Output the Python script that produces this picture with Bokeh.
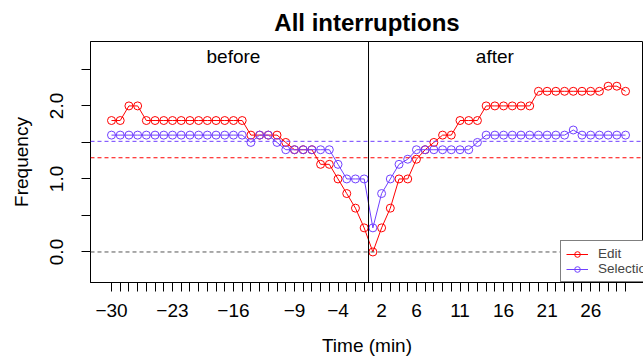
from bokeh.plotting import figure
from bokeh.models import Range1d, FixedTicker, Span, Legend, LegendItem, ColumnDataSource
from bokeh.core.properties import value
from bokeh.embed import file_html
from bokeh.resources import INLINE

# ---- data ----
minutes = [-30, -29, -28, -27, -26, -25, -24, -23, -22, -21, -20, -19, -18, -17, -16,
           -15, -14, -13, -12, -11, -10, -9, -8, -7, -6, -5, -4, -3, -2, -1,
           1, 2, 3, 4, 5, 6, 7, 8, 9, 10, 11, 12, 13, 14, 15,
           16, 17, 18, 19, 20, 21, 22, 23, 24, 25, 26, 27, 28, 29, 30]
labeled_minutes = [-30, -23, -16, -9, -4, 2, 6, 11, 16, 21, 26]

edit = [1.8, 1.8, 2.0, 2.0, 1.8, 1.8, 1.8, 1.8, 1.8, 1.8, 1.8, 1.8, 1.8, 1.8, 1.8, 1.8,
        1.6, 1.6, 1.6, 1.6, 1.5, 1.4, 1.4, 1.4, 1.2, 1.2, 1.0, 0.8, 0.6, 0.33,
        0.0, 0.33, 0.6, 1.0, 1.0, 1.27, 1.4, 1.5, 1.6, 1.6, 1.8, 1.8, 1.8,
        2.0, 2.0, 2.0, 2.0, 2.0, 2.0, 2.2, 2.2, 2.2, 2.2, 2.2, 2.2, 2.2, 2.2, 2.27, 2.27, 2.2]
selection = [1.6, 1.6, 1.6, 1.6, 1.6, 1.6, 1.6, 1.6, 1.6, 1.6, 1.6, 1.6, 1.6, 1.6, 1.6, 1.6,
             1.5, 1.6, 1.6, 1.5, 1.4, 1.4, 1.4, 1.4, 1.4, 1.4, 1.2, 1.0, 1.0, 1.0,
             0.33, 0.8, 1.0, 1.2, 1.27, 1.4, 1.4, 1.4, 1.4, 1.4, 1.4, 1.4, 1.5,
             1.6, 1.6, 1.6, 1.6, 1.6, 1.6, 1.6, 1.6, 1.6, 1.6, 1.67, 1.6, 1.6, 1.6, 1.6, 1.6, 1.6]
edit_baseline = 1.29
selection_baseline = 1.515
zero_line = 0.0
y_ticks = [0.0, 0.5, 1.0, 1.5, 2.0, 2.5]
y_tick_labels = {0.0: "0.0", 0.5: "", 1.0: "1.0", 1.5: "", 2.0: "2.0", 2.5: ""}
panel_labels = ["before", "after"]

RED = "#FF0000"
BLUE = "#7040FF"
FONT = "Liberation Sans"

# positions: index 1..60 along the axis
pos = list(range(1, len(minutes) + 1))
split = (minutes.index(-1) + 1 + minutes.index(1) + 1) / 2.0

src = ColumnDataSource(dict(x=pos, edit=edit, selection=selection))

p = figure(width=643, height=362, output_backend="svg", toolbar_location=None,
           x_range=Range1d(-1.41, 62.06), y_range=Range1d(-0.418, 2.882),
           min_border_left=90, min_border_right=0, min_border_top=38, min_border_bottom=80)
p.background_fill_color = "white"
p.border_fill_color = "white"
p.outline_line_color = "black"
p.outline_line_width = 1
p.xgrid.visible = False
p.ygrid.visible = False

p.title.text = "All interruptions"
p.title.align = "center"
p.title.text_font = FONT
p.title.text_font_size = "24px"
p.title.text_font_style = "bold"
p.title.text_color = "black"
p.title.standoff = 12

# x axis
overrides = {}
for x, m in zip(pos, minutes):
    overrides[x] = (str(m).replace("-", "\u2212") if m in labeled_minutes else "")
p.xaxis.ticker = FixedTicker(ticks=pos, minor_ticks=[])
p.xaxis.major_label_overrides = overrides
p.xaxis.axis_label = "Time (min)"
p.xaxis.major_label_standoff = 12
p.xaxis.axis_label_standoff = 15

# y axis
p.yaxis.ticker = FixedTicker(ticks=y_ticks, minor_ticks=[])
p.yaxis.major_label_overrides = y_tick_labels
p.yaxis.axis_label = "Frequency"
p.yaxis.major_label_orientation = "vertical"
p.yaxis.major_label_standoff = 18
p.yaxis.axis_label_standoff = 16

for ax in (p.xaxis[0], p.yaxis[0]):
    ax.axis_line_color = "black"
    ax.major_tick_line_color = "black"
    ax.major_tick_in = 0
    ax.major_tick_out = 9
    ax.minor_tick_line_color = None
    ax.major_label_text_font = FONT
    ax.major_label_text_font_size = "19px"
    ax.major_label_text_color = "black"
    ax.axis_label_text_font = FONT
    ax.axis_label_text_font_size = "19px"
    ax.axis_label_text_font_style = "normal"
    ax.axis_label_text_color = "black"

# reference lines
p.add_layout(Span(location=zero_line, dimension="width", line_color="#555555",
                  line_dash="4 3", line_width=1))
p.add_layout(Span(location=selection_baseline, dimension="width", line_color=BLUE,
                  line_dash="4 3", line_width=1))
p.add_layout(Span(location=edit_baseline, dimension="width", line_color=RED,
                  line_dash="4 3", line_width=1))
p.add_layout(Span(location=split, dimension="height", line_color="black", line_width=1))

# series
l1 = p.line("x", "edit", source=src, line_color=RED, line_width=1)
s1 = p.scatter("x", "edit", source=src, marker="circle", size=8, fill_color=None,
               line_color=RED, line_width=1)
l2 = p.line("x", "selection", source=src, line_color=BLUE, line_width=1)
s2 = p.scatter("x", "selection", source=src, marker="circle", size=8, fill_color=None,
               line_color=BLUE, line_width=1)

# panel labels
p.text(x=[15, 45], y=[2.67, 2.67], text=panel_labels, text_font=value(FONT),
       text_font_size="19px", text_align="center", text_baseline="alphabetic",
       text_color="black")

legend = Legend(items=[LegendItem(label="Edit", renderers=[l1, s1]),
                       LegendItem(label="Selection", renderers=[l2, s2])],
                location=(470, 0), border_line_color="black", border_line_width=1,
                padding=5, spacing=0, margin=0, label_text_font=FONT,
                label_text_font_size="13.5px", glyph_width=22, glyph_height=14,
                label_height=14, label_standoff=10, background_fill_color="white",
                background_fill_alpha=1.0)
p.add_layout(legend)

open("out.html", "w").write(file_html(p, INLINE))
